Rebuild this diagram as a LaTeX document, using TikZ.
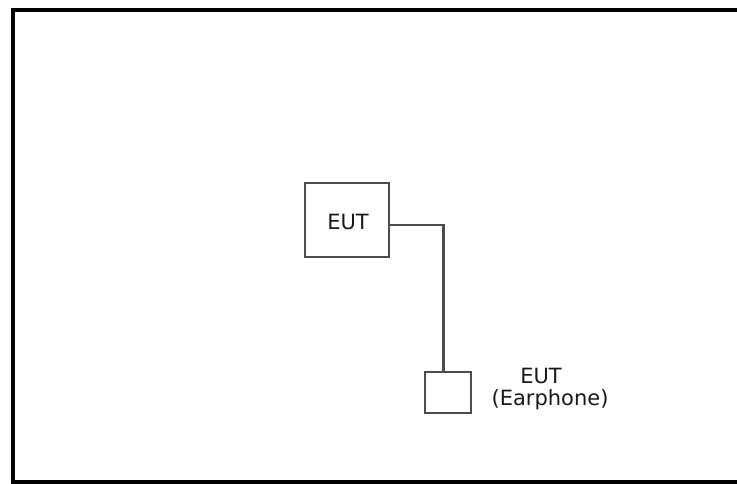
\documentclass[tikz,border=0pt]{standalone}
\usepackage{fontspec}
\setmainfont{DejaVu Sans}
\begin{document}
\begin{tikzpicture}[x=1pt,y=-1pt,
  frame/.style={draw=black,line width=4pt},
  eutbox/.style={draw=black!70,line width=2.4pt,rectangle,inner sep=0pt},
  wire/.style={draw=black!70,line width=2.4pt},
  lbl/.style={text=black!90,font=\fontsize{21}{22}\selectfont,inner sep=0pt}]
\useasboundingbox (0,0) rectangle (737,484);
\draw[frame] (745,10) -- (13,10) -- (13,482) -- (745,482);
\node[eutbox,minimum width=84pt,minimum height=74pt] (eut) at (347,220) {};
\node[lbl] (eutlbl) at (348,222) {EUT};
\node[eutbox,minimum width=46pt,minimum height=41pt] (ear) at (448,392.5) {};
\node[lbl,align=center] (earlbl) at (550,389.5) {EUT\hspace*{18pt}\\(Earphone)};
\draw[wire] ([yshift=-5pt]eut.east) -| ([xshift=-4.5pt]ear.north);
\end{tikzpicture}
\end{document}
